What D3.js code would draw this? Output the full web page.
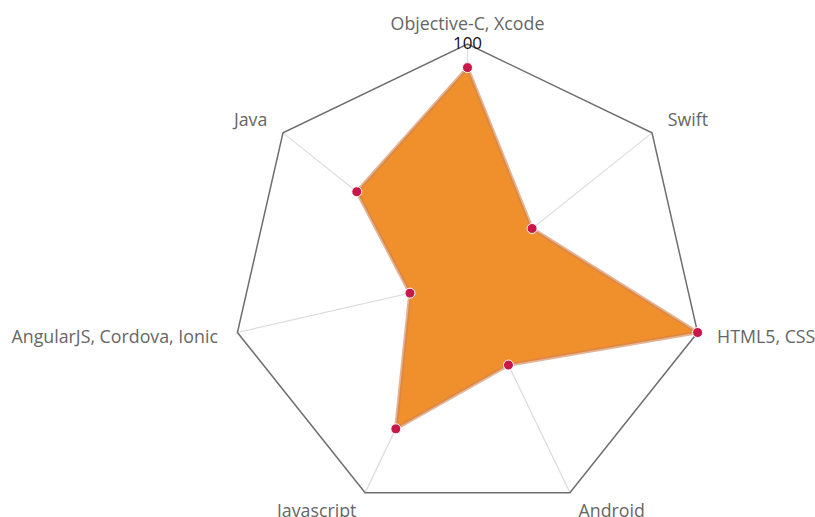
<!DOCTYPE html>
<html>
<head>
<meta charset="utf-8">
<script src="https://cdn.jsdelivr.net/npm/d3@7"></script>
<style>
  body { margin: 0; background: #fff; }
  text { font-family: "Open Sans", sans-serif; }
</style>
</head>
<body>
<svg id="chart" width="815" height="517"></svg>
<script>
var categories = ['Objective-C, Xcode', 'Swift', 'HTML5, CSS', 'Android', 'Javascript', 'AngularJS, Cordova, Ionic', 'Java'];
var values = [90, 35, 100, 40, 70, 25, 60];
var maxValue = 100;

var svg = d3.select('#chart');
var cx = 467.5, cy = 280, R = 236;

var rScale = d3.scaleLinear().domain([0, maxValue]).range([0, R]);
var angle = d3.scaleLinear().domain([0, categories.length]).range([0, 2 * Math.PI]);

var pointAt = function(i, r) {
    var a = angle(i) - Math.PI / 2;
    return [cx + r * Math.cos(a), cy + r * Math.sin(a)];
};

var g = svg.append('g');

// spokes
g.selectAll('.spoke')
    .data(categories)
    .enter().append('line')
    .attr('class', 'spoke')
    .attr('x1', cx).attr('y1', cy)
    .attr('x2', function(d, i) { return pointAt(i, R)[0]; })
    .attr('y2', function(d, i) { return pointAt(i, R)[1]; })
    .attr('stroke', '#dcdcdc')
    .attr('stroke-width', 1.2);

// outer polygon
g.append('polygon')
    .attr('points', categories.map(function(d, i) { return pointAt(i, rScale(maxValue)).join(','); }).join(' '))
    .attr('fill', 'none')
    .attr('stroke', '#6e6e6e')
    .attr('stroke-width', 1.5);

// series area
var line = d3.lineRadial()
    .angle(function(d, i) { return angle(i); })
    .radius(function(d) { return rScale(d); })
    .curve(d3.curveLinearClosed);

g.append('path')
    .datum(values)
    .attr('transform', 'translate(' + cx + ',' + cy + ')')
    .attr('d', line)
    .attr('fill', '#f0902c')
    .attr('stroke', 'rgba(210,130,80,0.6)')
    .attr('stroke-width', 3.5)
    .attr('stroke-linejoin', 'round');

// markers
g.selectAll('.pt')
    .data(values)
    .enter().append('circle')
    .attr('class', 'pt')
    .attr('cx', function(d, i) { return pointAt(i, rScale(d))[0]; })
    .attr('cy', function(d, i) { return pointAt(i, rScale(d))[1]; })
    .attr('r', 5)
    .attr('fill', '#c8184a')
    .attr('stroke', '#fff')
    .attr('stroke-width', 1);

// category labels
g.selectAll('.lbl')
    .data(categories)
    .enter().append('text')
    .attr('class', 'lbl')
    .attr('x', function(d, i) { return pointAt(i, R + 20)[0]; })
    .attr('y', function(d, i) { return pointAt(i, R + 20)[1] + 6; })
    .attr('text-anchor', function(d, i) {
        var dx = pointAt(i, R)[0] - cx;
        return Math.abs(dx) < 5 ? 'middle' : (dx > 0 ? 'start' : 'end');
    })
    .attr('font-size', 17.8)
    .attr('fill', '#666')
    .text(function(d) { return d; });

// y axis max label
g.append('text')
    .attr('x', cx)
    .attr('y', cy - rScale(maxValue) + 5)
    .attr('text-anchor', 'middle')
    .attr('font-size', 17)
    .attr('fill', '#111')
    .text(maxValue);
</script>
</body>
</html>
